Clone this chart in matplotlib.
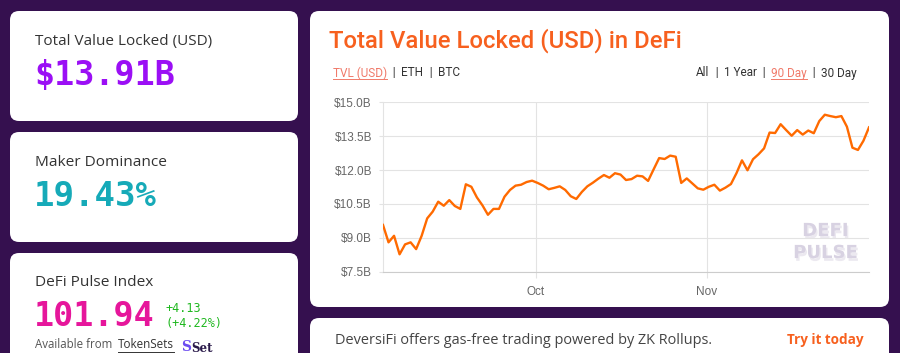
import pandas as pd
import matplotlib.pyplot as plt
import matplotlib.dates as mdates
import matplotlib.patheffects as pe
from matplotlib.patches import FancyBboxPatch
from matplotlib.ticker import FuncFormatter

# TVL values (billions USD), one per day over 90 days
tvl = [9.57, 8.80, 9.09, 8.27, 8.71, 8.80, 8.50, 9.09, 9.86, 10.16,
       10.60, 10.42, 10.67, 10.41, 10.28, 11.37, 11.26, 10.79, 10.44, 10.02,
       10.28, 10.28, 10.82, 11.12, 11.31, 11.35, 11.47, 11.53, 11.43, 11.31,
       11.15, 11.21, 11.28, 11.12, 10.84, 10.72, 11.03, 11.28, 11.44, 11.62,
       11.78, 11.66, 11.86, 11.80, 11.56, 11.60, 11.75, 11.72, 11.52, 12.03,
       12.53, 12.49, 12.64, 12.59, 11.43, 11.63, 11.41, 11.19, 11.13, 11.26,
       11.35, 11.09, 11.22, 11.38, 11.86, 12.43, 11.99, 12.48, 12.70, 12.96,
       13.66, 13.64, 14.03, 13.77, 13.52, 13.77, 13.57, 13.75, 13.63, 14.17,
       14.45, 14.39, 14.34, 14.39, 13.92, 12.99, 12.89, 13.30, 13.89]
dates = pd.date_range('2020-09-03 09:00', periods=len(tvl), freq='D')
y_ticks = [7.5, 9.0, 10.5, 12.0, 13.5, 15.0]
x_ticks = [pd.Timestamp('2020-10-01'), pd.Timestamp('2020-11-01')]
metric_tabs = ['TVL (USD)', 'ETH', 'BTC']
range_tabs = ['All', '1 Year', '90 Day', '30 Day']

W, H = 900, 353
bg = '#35104f'
orange = '#ff6a00'
link = '#f07a6a'
fig = plt.figure(figsize=(W / 100, H / 100), dpi=100)
fig.patch.set_facecolor(bg)
renderer = fig.canvas.get_renderer()

# background layer in pixel coordinates
bgax = fig.add_axes([0, 0, 1, 1])
bgax.set_xlim(0, W)
bgax.set_ylim(H, 0)
bgax.axis('off')


def card(x0, y0, x1, y1):
    bgax.add_patch(FancyBboxPatch((x0, y0), x1 - x0, y1 - y0,
                                  boxstyle='round,pad=0,rounding_size=9',
                                  fc='white', ec='none'))


def put(x, y, s, width=None, **kw):
    # place text at left x; optionally scale font so it spans `width` px
    t = bgax.text(x, y, s, va='center', **kw)
    if width:
        w = t.get_window_extent(renderer).width
        t.set_fontsize(t.get_fontsize() * width / w)
    return t.get_window_extent(renderer).width


def underline(x, y, w, color):
    bgax.plot([x, x + w], [y, y], color=color, lw=0.7)


card(10, 11, 298, 121)
card(10, 132, 298, 242)
card(10, 253, 298, 380)
card(310, 11, 889, 307)
card(310, 318, 889, 380)

label_font = 'Open Sans'
mono = 'DejaVu Sans Mono'

# left stat cards
put(35, 42, 'Total Value Locked (USD)', width=177, fontsize=10, color='#333333', family=label_font)
put(34, 76, '$13.91B', width=141, fontsize=24, color='#9b0ff5', family=mono, weight='bold')
put(35, 162, 'Maker Dominance', width=131, fontsize=10, color='#333333', family=label_font)
put(34, 197, '19.43%', width=123, fontsize=24, color='#16aab8', family=mono, weight='bold')
put(35, 283, 'DeFi Pulse Index', width=118, fontsize=10, color='#333333', family=label_font)
put(34, 316, '101.94', width=121, fontsize=24, color='#e6169b', family=mono, weight='bold')
put(165, 309, '+4.13', fontsize=8.5, color='#1fb81f', family=mono)
put(165, 324, '(+4.22%)', fontsize=8.5, color='#1fb81f', family=mono)
put(35, 345, 'Available from', width=78, fontsize=8, color='#555555', family=label_font)
w = put(118, 345, 'TokenSets', width=56, fontsize=8, color='#333333', family=label_font)
underline(118, 351.5, w, '#333333')
put(181, 347, 'S', fontsize=10, color='#6c4cf0', weight='bold', family='DejaVu Serif')
put(191, 348, 'Set', fontsize=8.5, color='#2a1a4a', weight='bold', family='DejaVu Serif')

# chart card header
put(329, 41, 'Total Value Locked (USD) in DeFi', width=352, fontsize=16,
    color='#f7601e', family='Roboto', weight='medium')

tab_kw = dict(fontsize=8.5, family='Roboto')
x = 333
for i, name in enumerate(metric_tabs):
    col = link if i == 0 else '#333333'
    w = put(x, 73, name, color=col, **tab_kw)
    if i == 0:
        underline(x, 79, w, link)
    x += w
    if i < len(metric_tabs) - 1:
        x += put(x, 73, '  |  ', color='#333333', **tab_kw)

# right-hand range tabs, laid out then shifted to end at x=857
pieces = []
for i, name in enumerate(range_tabs):
    pieces.append((name, link if name == '90 Day' else '#333333'))
    if i < len(range_tabs) - 1:
        pieces.append(('  |  ', '#333333'))
widths = []
for s, c in pieces:
    t = bgax.text(0, 0, s, **tab_kw)
    widths.append(t.get_window_extent(renderer).width)
    t.remove()
x = 857 - sum(widths)
for (s, c), w in zip(pieces, widths):
    put(x, 73, s, color=c, **tab_kw)
    if s == '90 Day':
        underline(x, 79, w, link)
    x += w

# bottom banner
put(335, 340, 'DeversiFi offers gas-free trading powered by ZK Rollups.', width=377,
    fontsize=10, color='#444444', family=label_font)
put(787, 340, 'Try it today', width=77, fontsize=9.5, color='#f7601e',
    family=label_font, weight='bold')

# line chart
x0, x1, ytop, ybot = 383, 869, 102.3, 271.7
ax = fig.add_axes([x0 / W, 1 - ybot / H, (x1 - x0) / W, (ybot - ytop) / H])
ax.set_facecolor('none')
ax.plot(dates, tvl, color=orange, linewidth=1.7, zorder=3)
ax.set_xlim(dates[0], dates[-1])
ax.set_ylim(7.5, 15.0)
ax.set_yticks(y_ticks)
ax.yaxis.set_major_formatter(FuncFormatter(lambda v, p: f'${v:.1f}B'))
ax.set_xticks(x_ticks)
ax.xaxis.set_major_formatter(mdates.DateFormatter('%b'))
ax.grid(True, color='#e3e3e3', linewidth=0.8)
ax.tick_params(axis='both', colors='#e3e3e3', labelcolor='#666666',
               labelsize=8.5, length=3)
ax.tick_params(axis='y', pad=5)
ax.tick_params(axis='x', length=4, pad=6)
for lab in ax.get_xticklabels() + ax.get_yticklabels():
    lab.set_family('Liberation Sans')
for side in ['top', 'right']:
    ax.spines[side].set_visible(False)
ax.spines['left'].set_color('#e3e3e3')
ax.spines['bottom'].set_color('#cccccc')

# watermark with a soft offset shadow
shadow = [pe.SimplePatchShadow(offset=(1, -2), shadow_rgbFace='#ece9f0', alpha=1),
          pe.Normal()]
ax.text(0.91, 0.24, 'DEFI', transform=ax.transAxes, fontsize=13, color='#d8d2e2',
        weight='bold', ha='center', va='center', zorder=1, path_effects=shadow)
ax.text(0.91, 0.11, 'PULSE', transform=ax.transAxes, fontsize=13, color='#d8d2e2',
        weight='bold', ha='center', va='center', zorder=1, path_effects=shadow)

plt.savefig('out.png', dpi=100, facecolor=fig.get_facecolor())
